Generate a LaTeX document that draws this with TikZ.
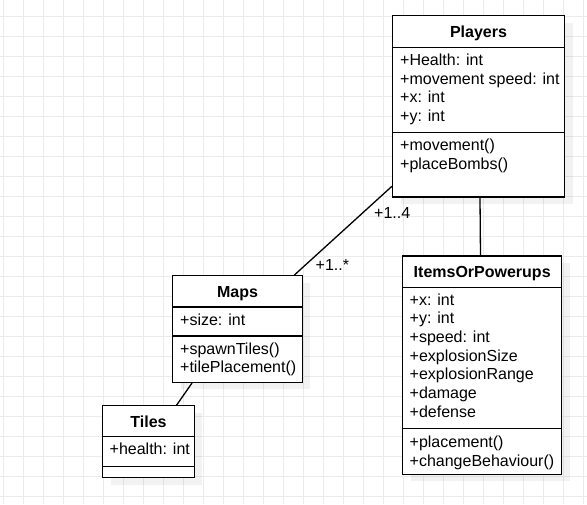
\documentclass[tikz,border=0pt]{standalone}
\usepackage{fontspec}
\setmainfont{Liberation Sans}
\usetikzlibrary{calc}
\definecolor{gridc}{HTML}{EBEBEB}
\tikzset{
  gridline/.style={draw=gridc, line width=1pt},
  classbox/.style={draw=black, fill=white, line width=1.3pt, rectangle, inner sep=0pt},
  shadowbox/.style={fill=black, fill opacity=0.05},
  sepline/.style={draw=black, line width=1.3pt},
  conn/.style={draw=black, line width=1.3pt},
  txt/.style={font=\fontsize{16}{18.7}\selectfont, inner sep=0pt, anchor=base west},
  ttl/.style={font=\fontsize{16}{18.7}\selectfont\bfseries, inner sep=0pt, anchor=base},
  lbl/.style={font=\fontsize{16}{18.7}\selectfont, inner sep=0pt, anchor=base west}
}
\begin{document}
\begin{tikzpicture}[x=1pt,y=-1pt]
\useasboundingbox (0,0) rectangle (587,504);
\fill[white] (0,0) rectangle (587,504);
% grid
\foreach \x in {3,23,...,583} \draw[gridline] (\x,0) -- (\x,504);
\foreach \y in {16.5,36.5,...,496.5} \draw[gridline] (0,\y) -- (587,\y);

% shadows
\fill[shadowbox] (400.5,22.5) rectangle (572.5,204);
\fill[shadowbox] (180.7,282.7) rectangle (310.3,389.3);
\fill[shadowbox] (110.7,412.7) rectangle (202.3,484.7);
\fill[shadowbox] (410.7,263) rectangle (569.7,481.3);

% Players
\node[classbox, minimum width=172pt, minimum height=181.5pt] (players) at (478.5,106.25) {};
\draw[sepline] (players.west |- 0,47.5) -- (players.east |- 0,47.5);
\draw[sepline] (players.west |- 0,132.5) -- (players.east |- 0,132.5);
\node[ttl] (p-t) at (478.5,37.2) {Players};
\node[txt] (p-a1) at (400,65.5) {+Health: int};
\node[txt] (p-a2) at (400,84.2) {+movement speed: int};
\node[txt] (p-a3) at (400,102.9) {+x: int};
\node[txt] (p-a4) at (400,121.6) {+y: int};
\node[txt] (p-m1) at (400,150.5) {+movement()};
\node[txt] (p-m2) at (400,169.2) {+placeBombs()};

% Maps
\node[classbox, minimum width=129.6pt, minimum height=106.6pt] (maps) at (237.5,329) {};
\draw[sepline] (maps.west |- 0,307) -- (maps.east |- 0,307);
\draw[sepline] (maps.west |- 0,336) -- (maps.east |- 0,336);
\node[ttl] (m-t) at (237.5,297.3) {Maps};
\node[txt] (m-a1) at (180,325.3) {+size: int};
\node[txt] (m-m1) at (180,354) {+spawnTiles()};
\node[txt] (m-m2) at (180,372.7) {+tilePlacement()};

% Tiles
\node[classbox, minimum width=91.6pt, minimum height=72pt] (tiles) at (148.5,441.7) {};
\draw[sepline] (tiles.west |- 0,436.7) -- (tiles.east |- 0,436.7);
\draw[sepline] (tiles.west |- 0,466.7) -- (tiles.east |- 0,466.7);
\node[ttl] (t-t) at (148.5,427.3) {Tiles};
\node[txt] (t-a1) at (109.5,454.8) {+health: int};

% ItemsOrPowerups
\node[classbox, minimum width=159pt, minimum height=218.3pt] (items) at (482.2,365.15) {};
\draw[sepline] (items.west |- 0,287.3) -- (items.east |- 0,287.3);
\draw[sepline] (items.west |- 0,428.3) -- (items.east |- 0,428.3);
\node[ttl] (i-t) at (482.2,277.4) {ItemsOrPowerups};
\node[txt] (i-a1) at (409.5,305) {+x: int};
\node[txt] (i-a2) at (409.5,323.7) {+y: int};
\node[txt] (i-a3) at (409.5,342.4) {+speed: int};
\node[txt] (i-a4) at (409.5,361.1) {+explosionSize};
\node[txt] (i-a5) at (409.5,379.8) {+explosionRange};
\node[txt] (i-a6) at (409.5,398.5) {+damage};
\node[txt] (i-a7) at (409.5,417.2) {+defense};
\node[txt] (i-m1) at (409.5,447.3) {+placement()};
\node[txt] (i-m2) at (409.5,466) {+changeBehaviour()};

% connectors
\draw[conn] ([yshift=11.3pt]players.south west) -- ([xshift=122.3pt]maps.north west);
\draw[conn] ([xshift=1.5pt]players.south) -- ([xshift=-1.7pt]items.north);
\draw[conn] ([xshift=20pt]maps.south west) -- ([xshift=74.6pt]tiles.north west);

% multiplicities
\node[lbl] (l-14) at (374,218) {+1..4};
\node[lbl] (l-1s) at (315.5,270.5) {+1..*};
\end{tikzpicture}
\end{document}
